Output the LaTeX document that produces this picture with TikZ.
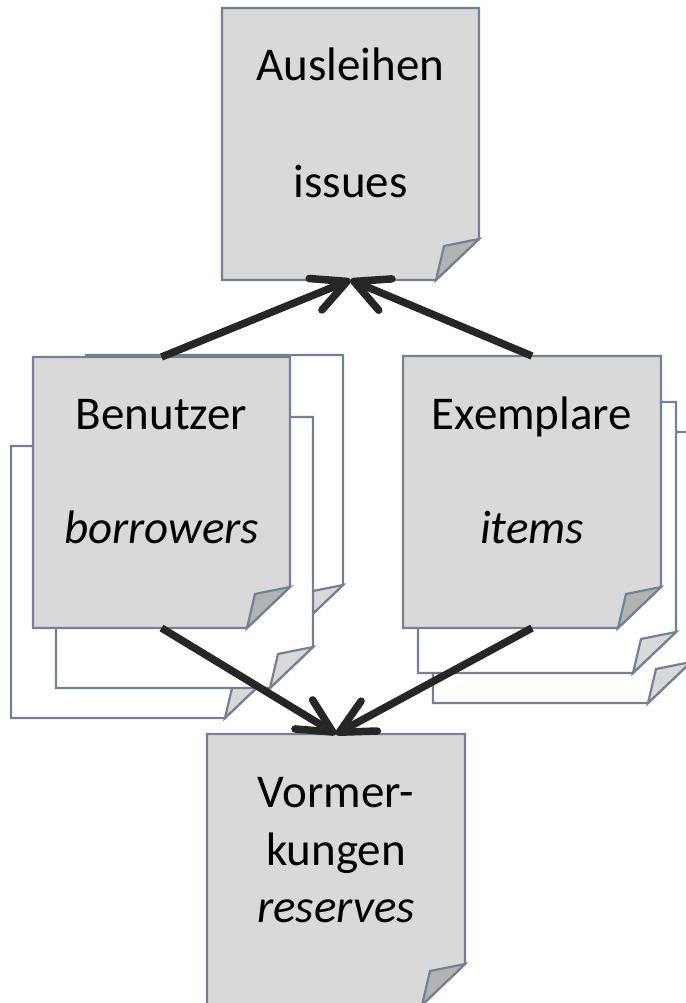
\documentclass[tikz,border=0pt]{standalone}
\usepackage{fontspec}
\setmainfont{Carlito}
\usetikzlibrary{arrows.meta}
\definecolor{pgline}{RGB}{115,130,146}
\definecolor{pgfront}{RGB}{217,217,217}
\definecolor{pgflap}{RGB}{178,178,178}
\definecolor{pgback}{RGB}{255,255,255}
\definecolor{pgbackflap}{RGB}{217,217,217}
\definecolor{arrowc}{RGB}{38,38,38}
\newcommand\docpg[6]{%
  \filldraw[pageline, fill=#5] (#1,#2) -- (#3,#2) -- (#3,#4-41) -- (#3-43,#4) -- (#1,#4) -- cycle;
  \filldraw[pageline, fill=#6] (#3-43,#4) -- (#3-35,#4-34) -- (#3,#4-41) -- cycle;
}
\tikzset{
  pageline/.style={draw=pgline, line width=2.2pt},
  box/.style={inner sep=0pt, outer sep=0pt, draw=none},
  lbl/.style={anchor=base, inner sep=0pt, font=\fontsize{47}{57}\selectfont},
  arr/.style={draw=arrowc, line width=7.5pt, -{Straight Barb[length=34pt, width=34pt, round]}}
}
\begin{document}
\begin{tikzpicture}[x=1pt, y=-1pt]
\useasboundingbox (0,0) rectangle (685,1003);
% Ausleihen
\docpg{222}{8}{479}{280}{pgfront}{pgflap}
% Benutzer stack
\docpg{86}{355}{343}{626}{pgback}{pgbackflap}
\docpg{11}{446}{268}{718}{pgback}{pgbackflap}
\docpg{56}{417}{313}{688}{pgback}{pgbackflap}
\docpg{33}{357}{290}{628}{pgfront}{pgflap}
% Exemplare stack
\docpg{433}{432}{691}{703}{pgback}{pgbackflap}
\docpg{418}{402}{676}{673}{pgback}{pgbackflap}
\docpg{403}{356}{661}{628}{pgfront}{pgflap}
% Vormerkungen
\docpg{207}{734}{465}{1005}{pgfront}{pgflap}

\node[box, minimum width=257pt, minimum height=272pt] (aus) at (350.5,144) {};
\node[box, minimum width=257pt, minimum height=271pt] (ben) at (161.5,492.5) {};
\node[box, minimum width=258pt, minimum height=272pt] (exe) at (532,492) {};
\node[box, minimum width=258pt, minimum height=271pt] (vor) at (336,869.5) {};

\node[lbl] (aus1) at (350.5,81) {Ausleihen};
\node[lbl] (aus2) at (350.5,197) {issues};
\node[lbl] (ben1) at (161.5,429) {Benutzer};
\node[lbl] (ben2) at (161.5,543) {\itshape borrowers};
\node[lbl] (exe1) at (532,429) {Exemplare};
\node[lbl] (exe2) at (532,543) {\itshape items};
\node[lbl] (vor1) at (336,807) {Vormer-};
\node[lbl] (vor2) at (336,865) {kungen};
\node[lbl] (vor3) at (336,922) {\itshape reserves};

\draw[arr] (ben.north) -- (aus.south);
\draw[arr] (exe.north) -- (aus.south);
\draw[arr] (ben.south) -- (vor.north);
\draw[arr] (exe.south) -- (vor.north);
\end{tikzpicture}
\end{document}
